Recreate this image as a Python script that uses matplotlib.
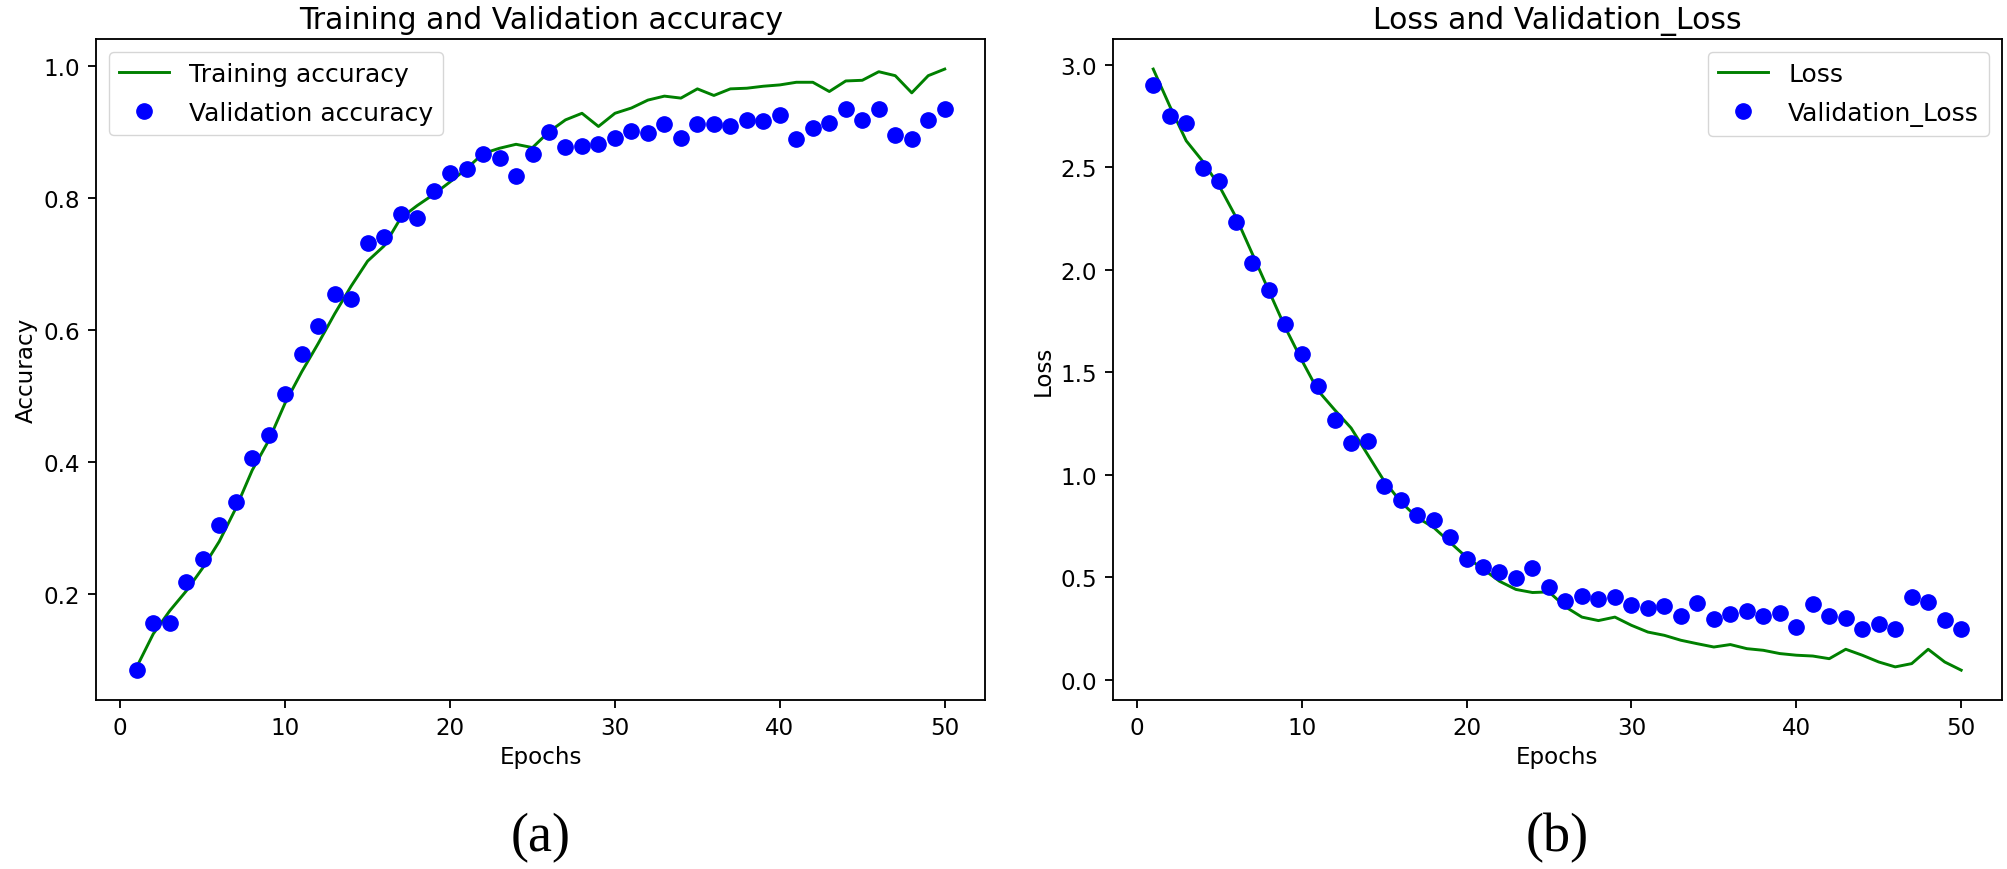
import matplotlib
matplotlib.use("Agg")
import matplotlib.pyplot as plt

epochs = list(range(1, 51))

train_acc = [0.09, 0.14, 0.175, 0.205, 0.24, 0.28, 0.33, 0.388, 0.433, 0.49,
             0.537, 0.58, 0.625, 0.667, 0.705, 0.728, 0.77, 0.789, 0.806, 0.825,
             0.845, 0.868, 0.876, 0.882, 0.877, 0.901, 0.919, 0.929, 0.909, 0.929,
             0.937, 0.949, 0.955, 0.952, 0.966, 0.956, 0.966, 0.967, 0.970, 0.972,
             0.976, 0.976, 0.962, 0.978, 0.979, 0.992, 0.986, 0.960, 0.986, 0.996]
val_acc = [0.085, 0.157, 0.157, 0.218, 0.253, 0.305, 0.340, 0.407, 0.442, 0.504,
           0.564, 0.606, 0.655, 0.647, 0.732, 0.742, 0.776, 0.770, 0.811, 0.839,
           0.844, 0.867, 0.861, 0.834, 0.867, 0.900, 0.878, 0.880, 0.883, 0.891,
           0.902, 0.899, 0.913, 0.891, 0.913, 0.913, 0.910, 0.919, 0.918, 0.927,
           0.890, 0.907, 0.915, 0.935, 0.919, 0.935, 0.896, 0.890, 0.919, 0.935]

train_loss = [2.98, 2.80, 2.63, 2.53, 2.41, 2.26, 2.08, 1.90, 1.72, 1.56,
              1.41, 1.317, 1.228, 1.099, 0.970, 0.869, 0.791, 0.743, 0.670, 0.597,
              0.540, 0.48, 0.44, 0.425, 0.428, 0.355, 0.305, 0.288, 0.305, 0.265,
              0.232, 0.216, 0.192, 0.175, 0.159, 0.171, 0.151, 0.143, 0.127, 0.119,
              0.115, 0.102, 0.148, 0.119, 0.086, 0.062, 0.078, 0.148, 0.086, 0.046]
val_loss = [2.903, 2.752, 2.717, 2.495, 2.434, 2.235, 2.034, 1.903, 1.738, 1.591,
            1.433, 1.268, 1.155, 1.163, 0.945, 0.875, 0.804, 0.780, 0.694, 0.590,
            0.548, 0.523, 0.497, 0.545, 0.452, 0.385, 0.410, 0.392, 0.405, 0.362,
            0.347, 0.360, 0.312, 0.375, 0.295, 0.320, 0.335, 0.310, 0.323, 0.257,
            0.370, 0.310, 0.302, 0.247, 0.273, 0.247, 0.405, 0.378, 0.293, 0.247]

S = 1.66
plt.rcParams.update({
    "font.family": ["DejaVu Sans"],
    "font.size": 10 * S,
    "axes.linewidth": 0.8 * S,
    "xtick.major.size": 3.5 * S,
    "ytick.major.size": 3.5 * S,
    "xtick.major.width": 0.8 * S,
    "ytick.major.width": 0.8 * S,
    "xtick.major.pad": 3.5 * S,
    "ytick.major.pad": 3.5 * S,
})

fig = plt.figure(figsize=(20.08, 8.70), dpi=100)
ax1 = fig.add_axes([0.048, 0.194, 0.4426, 0.760])
ax2 = fig.add_axes([0.5542, 0.194, 0.4426, 0.760])

ax1.plot(epochs, train_acc, color="g", lw=2.1, label="Training accuracy")
ax1.plot(epochs, val_acc, "bo", ms=11, label="Validation accuracy")
ax1.set_title("Training and Validation accuracy", fontsize=21.5, pad=8)
ax1.set_xlabel("Epochs")
ax1.set_ylabel("Accuracy")
ax1.legend(loc="upper left", fontsize=18, labelspacing=0.6)

ax2.plot(epochs, train_loss, color="g", lw=2.1, label="Loss")
ax2.plot(epochs, val_loss, "bo", ms=11, label="Validation_Loss")
ax2.set_title("Loss and Validation_Loss", fontsize=21.5, pad=8)
ax2.set_xlabel("Epochs")
ax2.set_ylabel("Loss")
ax2.legend(loc="upper right", fontsize=18, labelspacing=0.6)

for ax, cap in ((ax1, "(a)"), (ax2, "(b)")):
    pos = ax.get_position()
    fig.text((pos.x0 + pos.x1) / 2, 0.037, cap, ha="center", va="center",
             family=["Liberation Serif", "DejaVu Serif"], fontsize=39)

fig.savefig("out.png", dpi=100, facecolor="white")
